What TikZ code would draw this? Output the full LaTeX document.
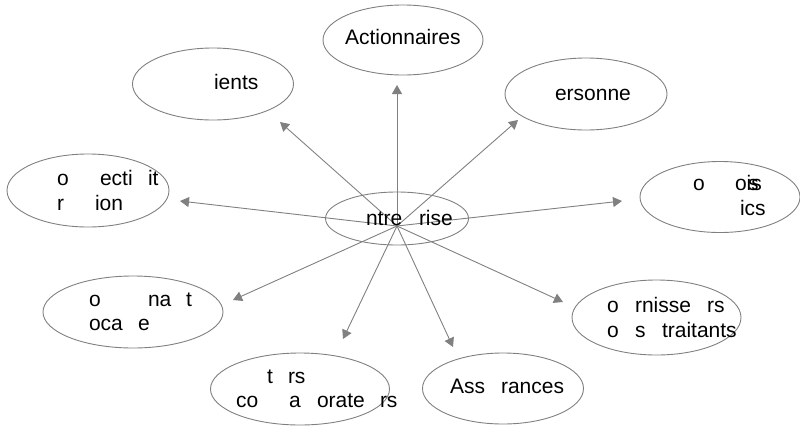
\documentclass[tikz,border=0pt]{standalone}
\usepackage{fontspec}
\setmainfont{Liberation Sans}
\usetikzlibrary{shapes.geometric,arrows.meta}

\definecolor{edgegray}{RGB}{128,128,128}

\tikzset{
  bubble/.style={ellipse, draw=edgegray, line width=0.9pt, inner sep=0pt},
  link/.style={draw=edgegray, line width=0.9pt,
    -{Triangle[length=9pt,width=10pt]}},
  word/.style={anchor=base west, inner sep=0pt, outer sep=0pt,
    font=\fontsize{21}{24}\selectfont, text=black}
}

% \placeword{name}{x}{y}{text}: a text fragment set on its baseline
\newcommand{\placeword}[4]{\node[word] (#1) at (#2,#3) {#4};}

\begin{document}
\begin{tikzpicture}[x=1pt,y=-1pt]
  \useasboundingbox (0,0) rectangle (800,426);

  % ellipses
  \node[bubble, minimum width=160pt, minimum height=70pt] (act) at (403,40) {};
  \node[bubble, minimum width=161pt, minimum height=72pt] (cli) at (213,84) {};
  \node[bubble, minimum width=162pt, minimum height=72pt] (per) at (586,94) {};
  \node[bubble, minimum width=162pt, minimum height=73pt] (col) at (88,190.5) {};
  \node[bubble, minimum width=160pt, minimum height=71pt] (pub) at (720,197) {};
  \node[bubble, minimum width=143pt, minimum height=53pt] (ent) at (397,218.5) {};
  \node[bubble, minimum width=180pt, minimum height=72pt] (loc) at (133,312) {};
  \node[bubble, minimum width=179pt, minimum height=72pt] (par) at (300,389) {};
  \node[bubble, minimum width=161pt, minimum height=71pt] (ass) at (503,388.5) {};
  \node[bubble, minimum width=169pt, minimum height=75pt] (fou) at (656.5,317.5) {};

  % hub of the arrows and their tips
  \coordinate (hub) at (397,226);
  \coordinate (tact) at (397,85);
  \coordinate (tcli) at (280,122);
  \coordinate (tper) at (518,120);
  \coordinate (tcol) at (180,201);
  \coordinate (tpub) at (622,201);
  \coordinate (tloc) at (233,300);
  \coordinate (tpar) at (343,339);
  \coordinate (tass) at (453,347);
  \coordinate (tfou) at (563,302);

  \foreach \t in {tact,tcli,tper,tcol,tpub,tloc,tpar,tass,tfou}
    \draw[link] (hub) -- (\t);

  % labels
  \placeword{w1}{345}{44}{Actionnaires}
  \placeword{w2}{214}{89}{ients}
  \placeword{w3}{555}{100}{ersonne}

  \placeword{w4}{57}{185}{o}
  \placeword{w5}{100}{185}{ecti}
  \placeword{w6}{148}{185}{it}
  \placeword{w7}{57}{210}{r}
  \placeword{w8}{95}{210}{ion}

  \placeword{w9}{693}{190}{o}
  \placeword{w10}{735}{190}{ois}
  \placeword{w11}{748}{190}{s}
  \placeword{w12}{740}{215}{ics}

  \placeword{w13}{366}{225}{ntre}
  \placeword{w14}{419}{225}{rise}

  \placeword{w15}{89}{306}{o}
  \placeword{w16}{148}{306}{na}
  \placeword{w17}{186}{306}{t}
  \placeword{w18}{89}{330}{oca}
  \placeword{w19}{138}{330}{e}

  \placeword{w20}{267}{383}{t}
  \placeword{w21}{288}{383}{rs}
  \placeword{w22}{236}{407}{co}
  \placeword{w23}{289}{407}{a}
  \placeword{w24}{317}{407}{orate}
  \placeword{w25}{380}{407}{rs}

  \placeword{w26}{450}{393}{Ass}
  \placeword{w27}{501}{393}{rances}

  \placeword{w28}{607}{312}{o}
  \placeword{w29}{635}{312}{rnisse}
  \placeword{w30}{707}{312}{rs}
  \placeword{w31}{607}{337}{o}
  \placeword{w32}{635}{337}{s}
  \placeword{w33}{662}{337}{traitants}
\end{tikzpicture}
\end{document}
